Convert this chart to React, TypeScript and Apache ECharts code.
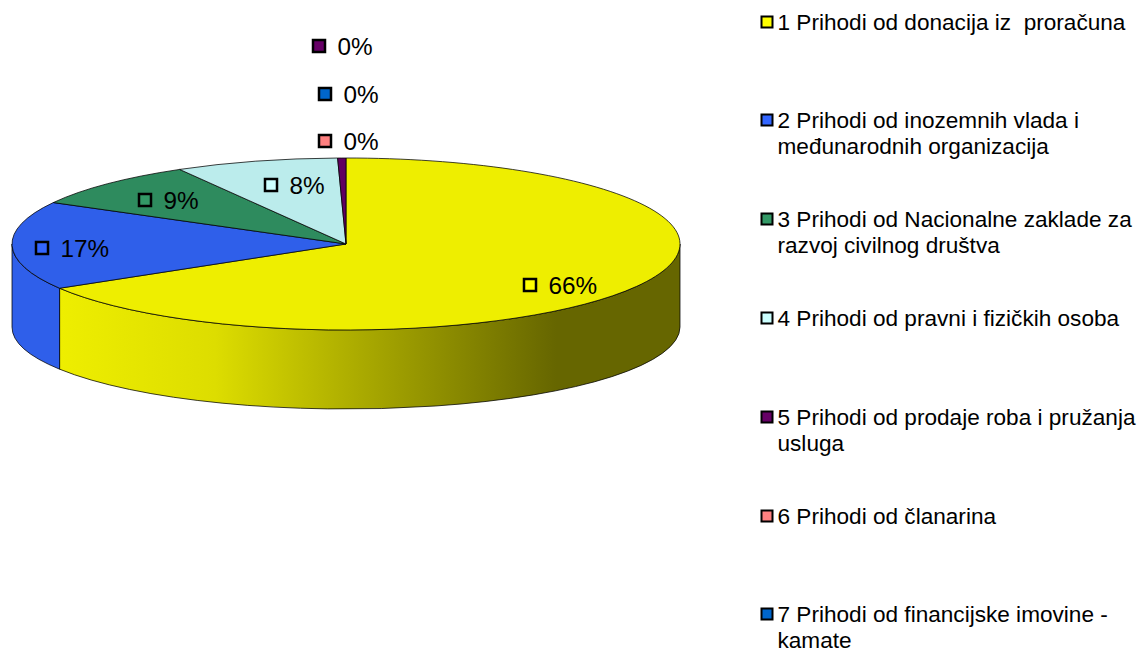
import React, { useEffect, useRef } from "react";
import * as echarts from "echarts";

const categories = [
  "1 Prihodi od donacija iz  proračuna",
  "2 Prihodi od inozemnih vlada i\nmeđunarodnih organizacija",
  "3 Prihodi od Nacionalne zaklade za\nrazvoj civilnog društva",
  "4 Prihodi od pravni i fizičkih osoba",
  "5 Prihodi od prodaje roba i pružanja\nusluga",
  "6 Prihodi od članarina",
  "7 Prihodi od financijske imovine -\nkamate",
];
const values = [66.4, 16.6, 8.7, 7.9, 0.4, 0, 0];
const topColors = ["#EEEE00", "#2F5FEA", "#2E8B5E", "#BBECEC", "#600060", "#EE7777", "#0060C0"];
const keyColors = ["#FFFF00", "#3366FF", "#339966", "#CCFFFF", "#660066", "#FF8080", "#0066CC"];
const labelAnchors = [
  [530, 285],
  [42, 248],
  [145, 200],
  [271, 185],
  [319, 46],
  [325, 141],
  [325, 94],
];
const legendY = [22, 120, 219, 318, 417, 516, 614];

const CX = 346;
const CY = 244;
const RX = 334;
const RY = 86;
const DEPTH = 83;
const BOTTOM_RY = 82;
const FONT = '"Liberation Sans", Arial, sans-serif';

const point = (a: number) => [CX + RX * Math.sin(a), CY - RY * Math.cos(a)];
const lowPoint = (a: number) => [CX + RX * Math.sin(a), CY + DEPTH - BOTTOM_RY * Math.cos(a)];
const TOTAL = values.reduce((s, v) => s + v, 0);
const RAD = Math.PI * 2;

function topPath(a0: number, a1: number) {
  const p0 = point(a0);
  const p1 = point(a1);
  const large = a1 - a0 > Math.PI ? 1 : 0;
  return `M${CX} ${CY}L${p0[0]} ${p0[1]}A${RX} ${RY} 0 ${large} 1 ${p1[0]} ${p1[1]}Z`;
}
function sidePath(a0: number, a1: number) {
  const t0 = point(a0);
  const t1 = point(a1);
  const b0 = lowPoint(a0);
  const b1 = lowPoint(a1);
  return `M${t0[0]} ${t0[1]}A${RX} ${RY} 0 0 1 ${t1[0]} ${t1[1]}L${b1[0]} ${b1[1]}A${RX} ${BOTTOM_RY} 0 0 0 ${b0[0]} ${b0[1]}Z`;
}

const sideFills: Record<number, any> = {
  0: new echarts.graphic.LinearGradient(
    60, 0, 680, 0,
    [
      { offset: 0, color: "#EEEE00" },
      { offset: 0.25, color: "#DDDD00" },
      { offset: 0.8, color: "#666600" },
      { offset: 1, color: "#666600" },
    ],
    true
  ),
  1: "#2F5FEA",
};

function renderSlice(params: any, api: any) {
  const i = params.dataIndex;
  let start = 0;
  for (let k = 0; k < i; k++) start += values[k];
  const v = api.value(0);
  const a0 = (start / TOTAL) * RAD;
  const a1 = ((start + v) / TOTAL) * RAD;
  const children: any[] = [];
  const lo = Math.max(a0, Math.PI / 2);
  const hi = Math.min(a1, (3 * Math.PI) / 2);
  if (v > 0 && hi > lo) {
    children.push({
      type: "path",
      shape: { pathData: sidePath(lo, hi) },
      style: { fill: sideFills[i] ?? topColors[i], stroke: "#000", lineWidth: 1, strokeOpacity: 0.75 },
    });
  }
  if (v > 0) {
    children.push({
      type: "path",
      shape: { pathData: topPath(a0, a1) },
      style: { fill: topColors[i], stroke: "#000", lineWidth: 1, strokeOpacity: 0.75 },
    });
  }
  const [lx, ly] = labelAnchors[i];
  children.push({
    type: "rect",
    shape: { x: lx - 6, y: ly - 6, width: 12, height: 12 },
    style: { fill: keyColors[i], stroke: "#000", lineWidth: 2.5 },
    z2: 5,
  });
  children.push({
    type: "text",
    x: lx + 18.5,
    y: ly,
    style: {
      text: `${Math.round(v)}%`,
      fill: "#000",
      font: `24.3px ${FONT}`,
      textAlign: "left",
      verticalAlign: "middle",
    },
    z2: 5,
  });
  return { type: "group", children };
}

export default function App() {
  const ref = useRef<HTMLDivElement>(null);
  useEffect(() => {
    const chart = echarts.init(ref.current!, null, { renderer: "svg" });
    const legend: any[] = [];
    categories.forEach((name, i) => {
      legend.push({
        type: "rect",
        shape: { x: 761.5, y: legendY[i] - 5.5, width: 11, height: 11 },
        style: { fill: keyColors[i], stroke: "#000", lineWidth: 2 },
      });
      legend.push({
        type: "text",
        x: 777.5,
        y: legendY[i] - 13,
        style: {
          text: name,
          fill: "#000",
          font: `22.6px ${FONT}`,
          lineHeight: 26,
          textAlign: "left",
          verticalAlign: "top",
        },
      });
    });
    chart.setOption({
      animation: false,
      backgroundColor: "#fff",
      graphic: { elements: legend },
      series: [
        {
          type: "custom",
          coordinateSystem: "none",
          renderItem: renderSlice,
          data: values.map((v, i) => ({ name: categories[i], value: [v] })),
          clip: false,
        },
      ],
    });
    return () => chart.dispose();
  }, []);
  return <div ref={ref} style={{ position: "absolute", left: 0, top: 0, width: 1138, height: 652 }} />;
}
